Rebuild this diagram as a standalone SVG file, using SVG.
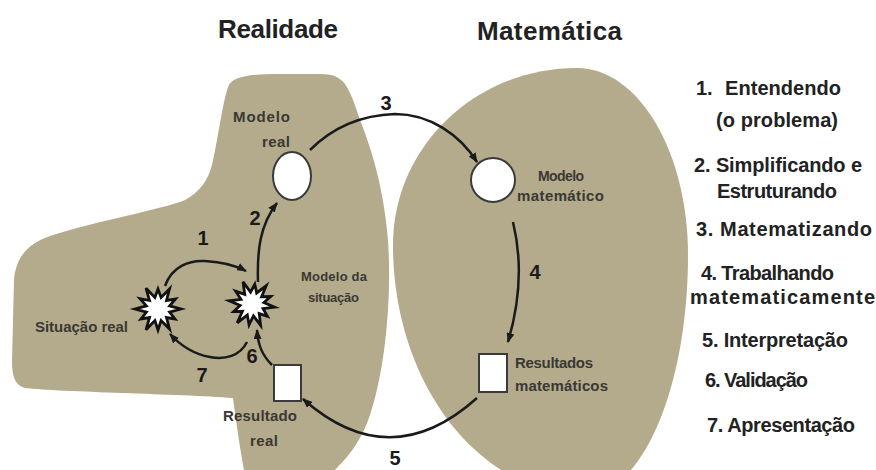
<svg xmlns="http://www.w3.org/2000/svg" xmlns:xlink="http://www.w3.org/1999/xlink" width="876" height="470" viewBox="0 0 876 470">
<style>
.region{fill:#b4ab8c;stroke:none}
.title{font-family:"Liberation Sans",Arial,sans-serif;font-weight:bold;font-size:26px;fill:#222}
.lbl{font-family:"Liberation Sans",Arial,sans-serif;font-weight:bold;font-size:15px;fill:#3a3833}
.sm{font-size:13px}
.md{font-size:14px}
.num{font-family:"Liberation Sans",Arial,sans-serif;font-weight:bold;font-size:20px;fill:#1a1a1a;text-anchor:middle}
.list{font-family:"Liberation Sans",Arial,sans-serif;font-weight:bold;font-size:20px;fill:#222}
.shape{fill:#fff;stroke:#3a3a3a;stroke-width:2}
.star{fill:#fff;stroke:#111;stroke-width:2.8;stroke-linejoin:miter}
.conn{fill:none;stroke:#1a1a1a;stroke-width:2.5;marker-end:url(#ah)}
</style>
<defs>
<marker id="ah" markerUnits="userSpaceOnUse" markerWidth="10" markerHeight="8" refX="9" refY="4" orient="auto">
<path d="M0,0 L10,4 L0,8 z" fill="#1a1a1a"/>
</marker>
<polygon id="starShape" points="23,0 11.6,3.1 17,10 8.5,8.5 11.5,20 3.1,11.6 0,21 -3.1,11.6 -12,20.8 -8.5,8.5 -17,10 -11.6,3.1 -23,0 -11.6,-3.1 -18,-10.4 -8.5,-8.5 -12,-20.8 -3.1,-11.6 0,-20 3.1,-11.6 11.5,-20 8.5,-8.5 17.5,-10 11.6,-3.1"/>
</defs>

<g id="regions">
<path id="realidade-region" class="region" d="M228,87 C232,76 250,74 280,74 L320,74 C335,74 340,78 345,84 C352,95 355,105 360,120 C372,150 384,190 388,240 C392,300 385,370 370,415 C360,445 345,460 330,475 L245,475 C240,450 236,420 233,398 C180,394 60,392 25,388 C14,385 12,375 12,360 L14,280 C16,255 30,243 50,236 C100,220 160,210 185,200 C200,192 208,180 212,165 C218,140 222,105 228,87 Z"/>
<path id="matematica-region" class="region" d="M577,68 C638.3,68 688,151.7 688,255 C688,387.6 641.9,495 585,495 C479,495 393,383.1 393,245 C393,147.2 475.4,68 577,68 Z"/>
</g>

<g id="titles">
<text class="title" x="218" y="38" textLength="120">Realidade</text>
<text class="title" x="477" y="40" textLength="145">Matemática</text>
</g>

<g id="connectors">
<path id="c1" class="conn" d="M165,286 C172,266 190,260 205,261 C222,262 235,265 246,271"/>
<path id="c2" class="conn" d="M258,282 C257,250 260,225 277,203"/>
<path id="c3" class="conn" d="M310,150 C335,125 365,115 395,114 C430,114 460,135 477,162"/>
<path id="c4" class="conn" d="M513,222 C521,255 522,295 508,342"/>
<path id="c5" class="conn" d="M477,398 Q390,476 303,399"/>
<path id="c6" class="conn" d="M272,365 C262,355 258,345 257,330"/>
<path id="c7" class="conn" d="M247,342 C240,356 225,360 210,357 C193,354 180,345 170,334"/>
</g>

<g id="numbers">
<text class="num" x="203" y="245">1</text>
<text class="num" x="255" y="225">2</text>
<text class="num" x="386" y="110">3</text>
<text class="num" x="535" y="279">4</text>
<text class="num" x="395" y="465">5</text>
<text class="num" x="252" y="363">6</text>
<text class="num" x="202" y="382">7</text>
</g>

<g id="modelo-real">
<ellipse class="shape" cx="292" cy="176" rx="19" ry="24"/>
<text class="lbl" x="233" y="122" textLength="57">Modelo</text>
<text class="lbl" x="262" y="147" textLength="28">real</text>
</g>

<g id="modelo-matematico">
<circle class="shape" cx="493" cy="180" r="22"/>
<text class="lbl md" x="538" y="181" textLength="46">Modelo</text>
<text class="lbl" x="517" y="201" textLength="87">matemático</text>
</g>

<g id="resultados-matematicos">
<rect class="shape" x="479" y="354" width="28" height="38"/>
<text class="lbl" x="515" y="368" textLength="78">Resultados</text>
<text class="lbl" x="515" y="391" textLength="93">matemáticos</text>
</g>

<g id="resultado-real">
<rect class="shape" x="274" y="365" width="27" height="36"/>
<text class="lbl" x="223" y="421" textLength="74">Resultado</text>
<text class="lbl" x="250" y="446" textLength="28">real</text>
</g>

<g id="situacao-real">
<use xlink:href="#starShape" class="star" transform="translate(158,309)"/>
<text class="lbl" x="35" y="332" textLength="93">Situação real</text>
</g>

<g id="modelo-situacao">
<use xlink:href="#starShape" class="star" transform="translate(252,304) rotate(8)"/>
<text class="lbl sm" x="301" y="281" textLength="66">Modelo da</text>
<text class="lbl sm" x="308" y="302" textLength="51">situação</text>
</g>

<g id="legend">
<text class="list" x="696" y="95">1.</text>
<text class="list" x="725" y="95" textLength="116">Entendendo</text>
<text class="list" x="716" y="127" textLength="122">(o problema)</text>
<text class="list" x="694" y="172" textLength="168">2. Simplificando e</text>
<text class="list" x="717" y="198" textLength="120">Estruturando</text>
<text class="list" x="696" y="236" textLength="176">3. Matematizando</text>
<text class="list" x="701" y="280" textLength="133">4. Trabalhando</text>
<text class="list" x="690" y="304" textLength="185">matematicamente</text>
<text class="list" x="702" y="347" textLength="146">5. Interpretação</text>
<text class="list" x="705" y="387" textLength="103">6. Validação</text>
<text class="list" x="707" y="432" textLength="148">7. Apresentação</text>
</g>
</svg>
